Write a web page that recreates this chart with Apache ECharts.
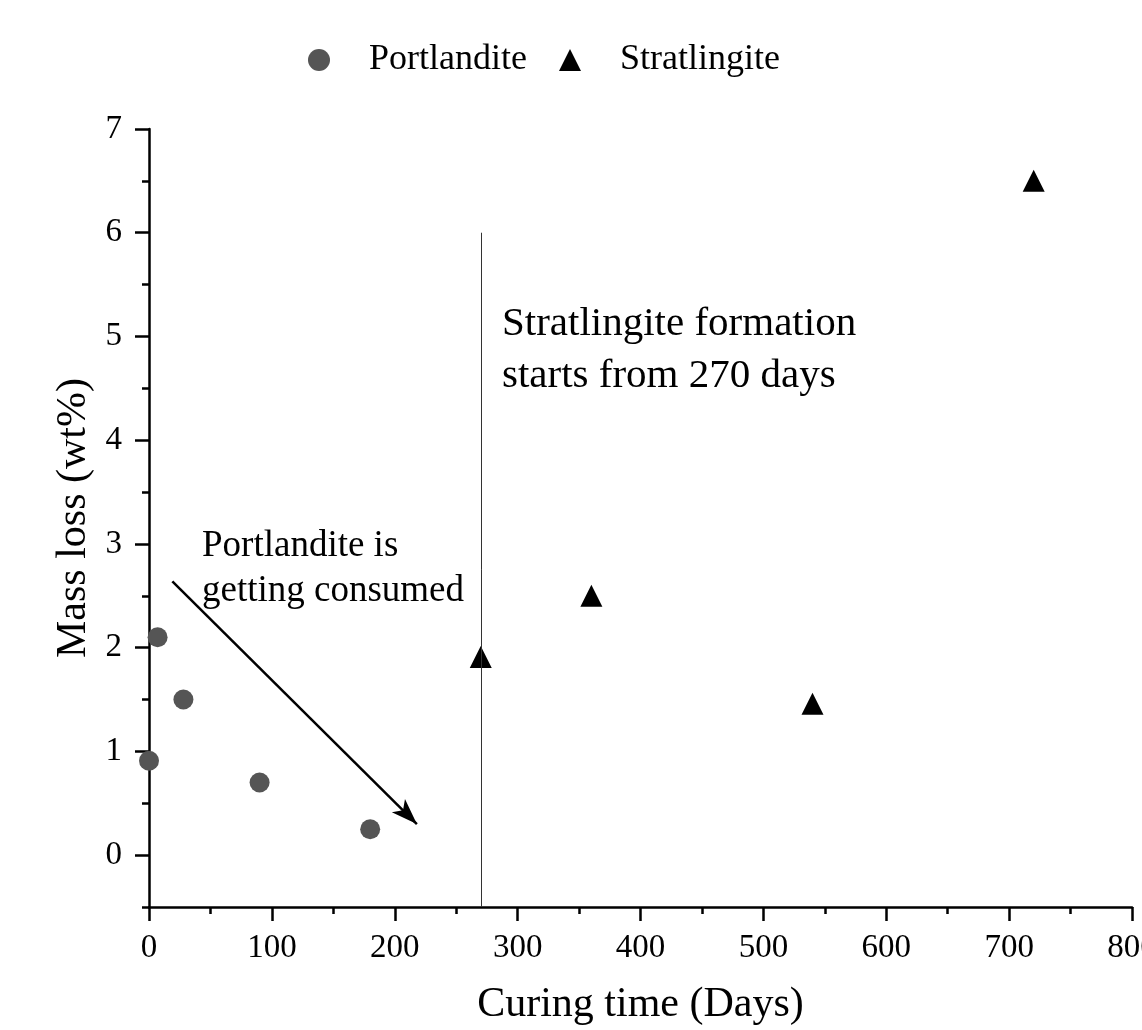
<!DOCTYPE html>
<html>
<head>
<meta charset="UTF-8">
<script src="https://cdn.jsdelivr.net/npm/echarts@6/dist/echarts.min.js"></script>
<style>
html, body { margin: 0; padding: 0; background: #fff; }
#main { width: 1142px; height: 1030px; }
</style>
</head>
<body>
<div id="main"></div>
<script type="text/javascript">
// data
var portlanditeDays = [0, 7, 28, 90, 180];
var portlanditeLoss = [0.91, 2.1, 1.5, 0.7, 0.25];
var stratlingiteDays = [270, 360, 540, 720];
var stratlingiteLoss = [1.91, 2.5, 1.46, 6.5];
var yMajorTicks = [0, 1, 2, 3, 4, 5, 6, 7];
// annotation guides
var startLine = [[270, -0.5], [270, 6]];
var trendArrow = [[19, 2.64], [218, 0.3]];

var font = '"Liberation Serif", "Times New Roman", serif';

function pairs(xs, ys) {
    return xs.map(function (x, i) { return [x, ys[i]]; });
}

var myChart = echarts.init(document.getElementById('main'));

var option = {
    animation: false,
    backgroundColor: '#fff',
    textStyle: { fontFamily: font },
    legend: {
        top: 37,
        left: 303,
        itemWidth: 22,
        itemHeight: 22,
        itemGap: 32,
        textStyle: { fontFamily: font, fontSize: 36, color: '#000', padding: [0, 0, 0, 34] },
        data: [
            { name: 'Portlandite', icon: 'circle' },
            { name: 'Stratlingite', icon: 'triangle' }
        ]
    },
    grid: { left: 149, right: 10, top: 129, bottom: 123, outerBoundsMode: 'none', containLabel: false },
    xAxis: {
        type: 'value',
        min: 0,
        max: 800,
        interval: 100,
        name: 'Curing time (Days)',
        nameLocation: 'middle',
        nameGap: 77,
        nameTextStyle: { fontFamily: font, fontSize: 42, color: '#000' },
        axisLine: { onZero: false, lineStyle: { color: '#000', width: 2.5 } },
        axisTick: { show: true, inside: false, length: 14, lineStyle: { color: '#000', width: 2.5 } },
        minorTick: { show: true, splitNumber: 2, length: 7, lineStyle: { color: '#000', width: 2.5 } },
        axisLabel: { fontFamily: font, fontSize: 33, color: '#000', margin: 25 },
        splitLine: { show: false }
    },
    yAxis: [
        {
            type: 'value',
            min: -0.5,
            max: 7,
            name: 'Mass loss (wt%)',
            nameLocation: 'middle',
            nameGap: 54,
            nameTextStyle: { fontFamily: font, fontSize: 42, color: '#000' },
            axisLine: { onZero: false, lineStyle: { color: '#000', width: 2.5 } },
            axisTick: { show: true, inside: false, length: 14, customValues: yMajorTicks, lineStyle: { color: '#000', width: 2.5 } },
            axisLabel: { fontFamily: font, fontSize: 33, color: '#000', margin: 27, customValues: yMajorTicks },
            splitLine: { show: false }
        },
        {
            // half-step minor ticks
            type: 'value',
            min: -0.5,
            max: 7,
            interval: 0.5,
            position: 'left',
            axisLine: { show: false, onZero: false },
            axisTick: { show: true, inside: false, length: 7, lineStyle: { color: '#000', width: 2.5 } },
            axisLabel: { show: false },
            splitLine: { show: false }
        }
    ],
    series: [
        {
            name: 'Portlandite',
            type: 'scatter',
            symbol: 'circle',
            symbolSize: 20,
            itemStyle: { color: '#555555', opacity: 1 },
            data: pairs(portlanditeDays, portlanditeLoss),
            markLine: {
                silent: true,
                symbol: ['none', 'arrow'],
                symbolSize: [14, 26],
                label: { show: false },
                lineStyle: { color: '#000', width: 2.5, type: 'solid' },
                data: [[{ coord: trendArrow[0] }, { coord: trendArrow[1] }]]
            }
        },
        {
            name: 'Stratlingite',
            type: 'scatter',
            symbol: 'triangle',
            symbolSize: 22,
            itemStyle: { color: '#000', opacity: 1 },
            data: pairs(stratlingiteDays, stratlingiteLoss),
            markLine: {
                silent: true,
                symbol: 'none',
                label: { show: false },
                lineStyle: { color: '#333', width: 1, type: 'solid' },
                data: [[{ coord: startLine[0] }, { coord: startLine[1] }]]
            }
        }
    ],
    graphic: [
        {
            type: 'text',
            left: 502,
            top: 298,
            style: {
                text: 'Stratlingite formation\nstarts from 270 days',
                font: '41px ' + font,
                fill: '#000',
                lineHeight: 52
            }
        },
        {
            type: 'text',
            left: 202,
            top: 524,
            style: {
                text: 'Portlandite is\ngetting consumed',
                font: '37px ' + font,
                fill: '#000',
                lineHeight: 45
            }
        }
    ]
};

myChart.setOption(option);
</script>
</body>
</html>
